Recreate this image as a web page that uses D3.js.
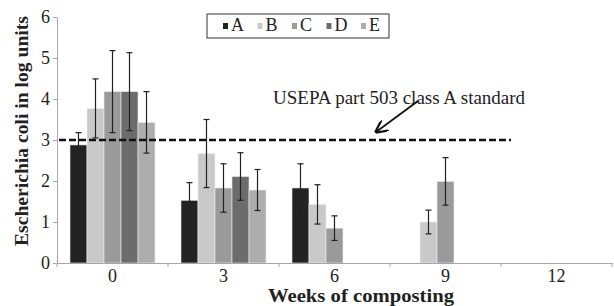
<!DOCTYPE html>
<html>
<head>
<meta charset="utf-8">
<script src="https://cdn.jsdelivr.net/npm/d3@7"></script>
<style>
  body { margin: 0; background: #fff; }
  svg text { font-family: "Liberation Serif", "Times New Roman", serif; }
</style>
</head>
<body>
<div id="chart"></div>
<script>
const width = 614
const height = 306
const margin = { top: 17, right: 2, bottom: 43, left: 57 }

// weeks of composting on the x axis
const weeks = ["0", "3", "6", "9", "12"]
const series = ["A", "B", "C", "D", "E"]
const colors = ["#232323", "#c9c9c9", "#9a9a9a", "#6c6c6c", "#adadad"]

// mean values per series (null = no bar)
const valA = [2.88, 1.53, 1.83, null, null]
const valB = [3.77, 2.67, 1.43, 1.00, null]
const valC = [4.18, 1.83, 0.85, 1.99, null]
const valD = [4.18, 2.11, null, null, null]
const valE = [3.43, 1.78, null, null, null]

// error bar half-lengths
const errA = [0.30, 0.43, 0.59, null, null]
const errB = [0.72, 0.83, 0.48, 0.29, null]
const errC = [1.00, 0.59, 0.30, 0.58, null]
const errD = [0.95, 0.58, null, null, null]
const errE = [0.75, 0.50, null, null, null]

const standard = 3 // USEPA part 503 class A
const yTicks = [0, 1, 2, 3, 4, 5, 6]

const values = [valA, valB, valC, valD, valE]
const errors = [errA, errB, errC, errD, errE]

// flatten to one record per bar
const bars = []
series.forEach((s, i) => {
  weeks.forEach((w, j) => {
    if (values[i][j] != null) bars.push({ s: s, i: i, week: w, v: values[i][j], e: errors[i][j] })
  })
})

const svg = d3.select("#chart").append("svg")
  .attr("width", width)
  .attr("height", height)

const x0 = d3.scaleBand()
  .domain(weeks)
  .range([margin.left, width - margin.right])
  .paddingInner(0.234)
  .paddingOuter(0.117)

const x1 = d3.scaleBand()
  .domain(series)
  .range([0, x0.bandwidth()])

const y = d3.scaleLinear()
  .domain([0, 6])
  .range([height - margin.bottom, margin.top])

// bars
svg.append("g").selectAll("rect")
  .data(bars)
  .enter().append("rect")
  .attr("x", d => x0(d.week) + x1(d.s))
  .attr("y", d => y(d.v))
  .attr("width", x1.bandwidth())
  .attr("height", d => y(0) - y(d.v))
  .attr("fill", d => colors[d.i])
  .attr("stroke", "#eeeeee")
  .attr("stroke-width", 0.6)

// error bars
const eb = svg.append("g").attr("stroke", "#222").attr("stroke-width", 1.2)
bars.forEach(d => {
  const cx = x0(d.week) + x1(d.s) + x1.bandwidth() / 2
  eb.append("line").attr("x1", cx).attr("x2", cx).attr("y1", y(d.v + d.e)).attr("y2", y(d.v - d.e))
  eb.append("line").attr("x1", cx - 3).attr("x2", cx + 3).attr("y1", y(d.v + d.e)).attr("y2", y(d.v + d.e))
  eb.append("line").attr("x1", cx - 3).attr("x2", cx + 3).attr("y1", y(d.v - d.e)).attr("y2", y(d.v - d.e))
})

// y axis
const yAxis = svg.append("g")
  .attr("transform", `translate(${margin.left},0)`)
  .call(d3.axisLeft(y).tickValues(yTicks).tickFormat(d3.format("d")).tickSize(4).tickPadding(3).tickSizeOuter(0))
yAxis.select(".domain").attr("stroke", "#a6a6a6")
yAxis.selectAll(".tick line").attr("stroke", "#a6a6a6")
yAxis.selectAll("text").attr("font-size", 18).attr("fill", "#222")
  .style("font-family", "Liberation Serif")

// x axis: labels at band centres, ticks at band boundaries
const xAxis = svg.append("g")
  .attr("transform", `translate(0,${y(0)})`)
  .call(d3.axisBottom(x0).tickSize(0).tickPadding(6).tickSizeOuter(0))
xAxis.select(".domain").attr("stroke", "#a6a6a6")
xAxis.selectAll("text").attr("font-size", 18).attr("fill", "#222")
  .style("font-family", "Liberation Serif")
const step = x0.step()
const bounds = d3.range(weeks.length + 1).map(k => margin.left + k * step)
xAxis.selectAll(".bt").data(bounds).enter().append("line")
  .attr("x1", d => d).attr("x2", d => d)
  .attr("y1", 0).attr("y2", 4)
  .attr("stroke", "#a6a6a6")

// dashed standard line
svg.append("line")
  .attr("x1", margin.left + 2)
  .attr("x2", x0("12") - 3)
  .attr("y1", y(standard))
  .attr("y2", y(standard))
  .attr("stroke", "#111")
  .attr("stroke-width", 2.6)
  .attr("stroke-dasharray", "7,3")

// annotation and arrow
svg.append("defs").append("marker")
  .attr("id", "arrow")
  .attr("viewBox", "0 0 10 10")
  .attr("refX", 9).attr("refY", 5)
  .attr("markerWidth", 7).attr("markerHeight", 7)
  .attr("orient", "auto")
  .append("path")
  .attr("d", "M0,0 L10,5 L0,10")
  .attr("fill", "none")
  .attr("stroke", "#111")
  .attr("stroke-width", 1.8)

svg.append("text")
  .attr("x", 273)
  .attr("y", 104)
  .attr("font-size", 19)
  .attr("fill", "#222")
  .text("USEPA part 503 class A standard")

svg.append("line")
  .attr("x1", 418).attr("y1", 101)
  .attr("x2", 376).attr("y2", 132)
  .attr("stroke", "#111")
  .attr("stroke-width", 1.8)
  .attr("marker-end", "url(#arrow)")

// legend
const legend = svg.append("g")
legend.append("rect")
  .attr("x", 207).attr("y", 14)
  .attr("width", 182).attr("height", 24)
  .attr("fill", "#fff")
  .attr("stroke", "#333")
  .attr("stroke-width", 1)
const li = legend.selectAll(".li").data(series).enter().append("g")
  .attr("transform", (d, i) => `translate(${223 + i * 34.5},0)`)
li.append("rect")
  .attr("x", 0).attr("y", 23)
  .attr("width", 5).attr("height", 6)
  .attr("fill", (d, i) => colors[i])
li.append("text")
  .attr("x", 8).attr("y", 31)
  .attr("font-size", 18)
  .attr("fill", "#222")
  .text(d => d)

// axis titles
svg.append("text")
  .attr("transform", `translate(28,131) rotate(-90)`)
  .attr("text-anchor", "middle")
  .attr("font-size", 18)
  .attr("font-weight", "bold")
  .attr("fill", "#222")
  .attr("textLength", 230)
  .attr("lengthAdjust", "spacingAndGlyphs")
  .text("Escherichia coli in log units")

svg.append("text")
  .attr("x", 361)
  .attr("y", 302)
  .attr("text-anchor", "middle")
  .attr("font-size", 18)
  .attr("font-weight", "bold")
  .attr("fill", "#222")
  .attr("textLength", 186)
  .attr("lengthAdjust", "spacingAndGlyphs")
  .text("Weeks of composting")
</script>
</body>
</html>
